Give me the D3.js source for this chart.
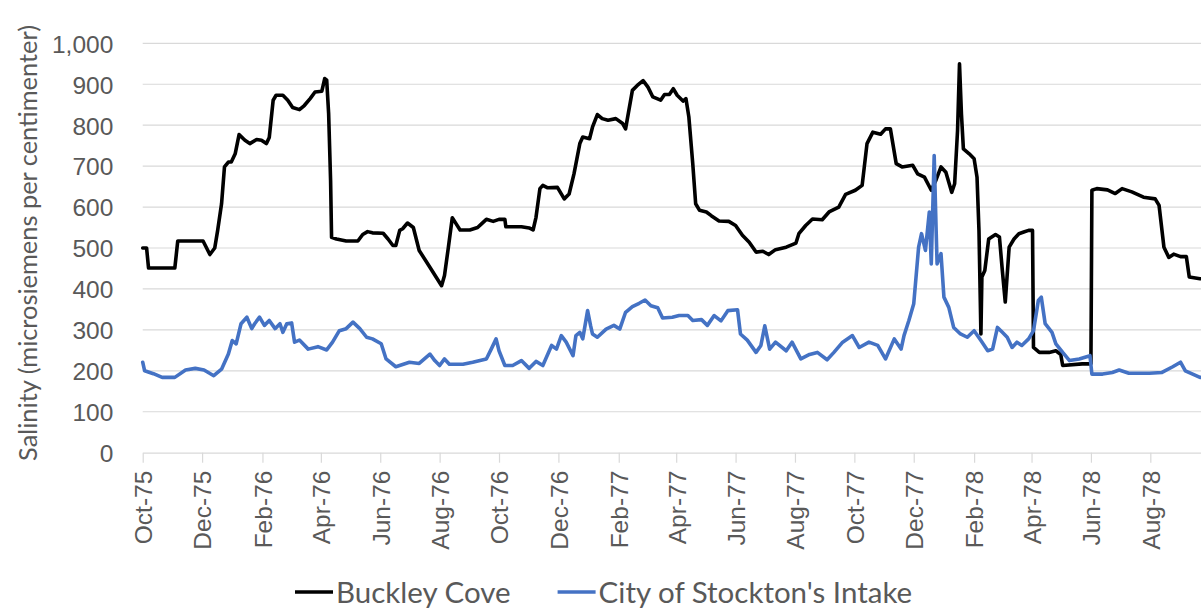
<!DOCTYPE html>
<html>
<head>
<meta charset="utf-8">
<script src="https://cdn.jsdelivr.net/npm/d3@7"></script>
<style>
  body { margin: 0; background: #fff; }
  svg { display: block; font-family: Lato, "Open Sans", sans-serif; }
  .grid line { stroke: #d9d9d9; stroke-width: 1.2; }
  .tick text { fill: #595959; }
</style>
</head>
<body>
<svg id="chart"></svg>
<script>
// daily salinity (date, microsiemens/cm)
var buckleyCove = [
  ["1975-10-01",500],["1975-10-05",500],["1975-10-07",451],["1975-11-03",451],["1975-11-06",517],["1975-12-02",517],
  ["1975-12-09",484],["1975-12-14",500],["1975-12-17",543],["1975-12-21",608],["1975-12-24",698],["1975-12-28",710],
  ["1975-12-31",710],["1976-01-04",730],["1976-01-08",777],["1976-01-14",763],["1976-01-19",755],["1976-01-26",765],
  ["1976-01-31",763],["1976-02-05",755],["1976-02-08",770],["1976-02-12",861],["1976-02-15",873],["1976-02-22",873],
  ["1976-02-27",861],["1976-03-03",843],["1976-03-10",838],["1976-03-15",848],["1976-03-21",865],["1976-03-26",881],
  ["1976-04-02",883],["1976-04-05",914],["1976-04-07",910],["1976-04-09",828],["1976-04-11",665],["1976-04-12",526],
  ["1976-04-17",522],["1976-04-27",517],["1976-05-09",517],["1976-05-14",533],["1976-05-19",540],["1976-05-24",537],
  ["1976-06-04",536],["1976-06-09",522],["1976-06-14",506],["1976-06-17",506],["1976-06-21",543],["1976-06-24",547],
  ["1976-06-29",561],["1976-07-05",550],["1976-07-11",494],["1976-07-22",453],["1976-08-03",408],["1976-08-06",433],
  ["1976-08-10",502],["1976-08-14",574],["1976-08-18",559],["1976-08-22",544],["1976-09-01",544],["1976-09-09",550],
  ["1976-09-13",559],["1976-09-18",570],["1976-09-25",565],["1976-10-01",570],["1976-10-07",570],["1976-10-08",552],
  ["1976-10-24",552],["1976-11-01",549],["1976-11-05",544],["1976-11-08",575],["1976-11-12",645],["1976-11-15",653],
  ["1976-11-20",647],["1976-11-30",648],["1976-12-07",620],["1976-12-12",632],["1976-12-17",681],["1976-12-23",755],
  ["1976-12-26",771],["1977-01-02",767],["1977-01-05",795],["1977-01-10",826],["1977-01-15",816],["1977-01-21",812],
  ["1977-01-29",816],["1977-02-05",804],["1977-02-08",791],["1977-02-15",885],["1977-02-20",897],["1977-02-26",909],
  ["1977-03-03",893],["1977-03-08",869],["1977-03-16",861],["1977-03-20",875],["1977-03-25",875],["1977-03-29",889],
  ["1977-04-02",873],["1977-04-08",859],["1977-04-11",865],["1977-04-14",820],["1977-04-18",706],["1977-04-21",608],
  ["1977-04-25",592],["1977-05-02",588],["1977-05-07",579],["1977-05-15",566],["1977-05-25",565],["1977-06-01",555],
  ["1977-06-08",531],["1977-06-15",514],["1977-06-22",490],["1977-06-29",492],["1977-07-05",484],["1977-07-12",496],
  ["1977-07-23",502],["1977-08-02",512],["1977-08-05",535],["1977-08-12",555],["1977-08-19",571],["1977-08-29",569],
  ["1977-09-05",588],["1977-09-15",600],["1977-09-22",631],["1977-10-02",641],["1977-10-09",653],["1977-10-14",755],
  ["1977-10-20",783],["1977-10-28",778],["1977-11-02",791],["1977-11-07",791],["1977-11-13",706],["1977-11-19",698],
  ["1977-11-30",702],["1977-12-05",681],["1977-12-12",673],["1977-12-19",641],["1977-12-24",667],["1977-12-29",698],
  ["1978-01-03",685],["1978-01-09",636],["1978-01-12",657],["1978-01-15",787],["1978-01-17",950],["1978-01-19",827],
  ["1978-01-21",742],["1978-01-27",730],["1978-02-01",718],["1978-02-04",673],["1978-02-06",543],["1978-02-08",290],
  ["1978-02-09",429],["1978-02-12",445],["1978-02-16",522],["1978-02-23",533],["1978-02-27",527],["1978-03-02",445],
  ["1978-03-05",368],["1978-03-09",502],["1978-03-14",522],["1978-03-19",535],["1978-03-24",539],["1978-03-29",543],
  ["1978-04-02",543],["1978-04-03",257],["1978-04-09",245],["1978-04-19",245],["1978-04-26",249],["1978-05-01",240],
  ["1978-05-03",213],["1978-05-23",217],["1978-06-01",217],["1978-06-02",641],["1978-06-07",645],["1978-06-18",642],
  ["1978-06-26",633],["1978-07-03",645],["1978-07-13",637],["1978-07-25",624],["1978-08-06",620],["1978-08-10",604],
  ["1978-08-15",502],["1978-08-20",477],["1978-08-25",485],["1978-09-01",479],["1978-09-07",479],["1978-09-10",429],
  ["1978-09-21",425],["1978-09-30",425]
];

var stocktonIntake = [
  ["1975-10-01",221],["1975-10-03",200],["1975-10-12",193],["1975-10-21",184],["1975-11-03",184],["1975-11-14",202],
  ["1975-11-24",206],["1975-12-03",202],["1975-12-13",188],["1975-12-21",204],["1975-12-28",241],["1976-01-01",274],
  ["1976-01-05",266],["1976-01-10",315],["1976-01-16",331],["1976-01-21",303],["1976-01-24",315],["1976-01-29",331],
  ["1976-02-03",311],["1976-02-08",323],["1976-02-14",303],["1976-02-19",315],["1976-02-22",294],["1976-02-26",315],
  ["1976-03-02",317],["1976-03-05",270],["1976-03-10",275],["1976-03-19",253],["1976-03-29",259],["1976-04-07",251],
  ["1976-04-13",270],["1976-04-20",298],["1976-04-27",303],["1976-05-04",319],["1976-05-11",303],["1976-05-18",282],
  ["1976-05-24",278],["1976-06-02",266],["1976-06-07",229],["1976-06-17",210],["1976-07-01",221],["1976-07-11",218],
  ["1976-07-22",241],["1976-07-27",225],["1976-08-01",213],["1976-08-06",229],["1976-08-11",216],["1976-08-25",216],
  ["1976-09-04",221],["1976-09-18",229],["1976-09-23",253],["1976-09-28",278],["1976-10-01",249],["1976-10-07",213],
  ["1976-10-15",213],["1976-10-24",225],["1976-11-01",206],["1976-11-08",223],["1976-11-15",213],["1976-11-24",262],
  ["1976-11-29",253],["1976-12-04",286],["1976-12-09",270],["1976-12-16",237],["1976-12-19",286],["1976-12-23",294],
  ["1976-12-26",278],["1976-12-31",347],["1977-01-03",311],["1977-01-05",290],["1977-01-10",282],["1977-01-19",302],
  ["1977-01-27",311],["1977-02-02",302],["1977-02-08",343],["1977-02-15",357],["1977-02-22",365],["1977-02-28",373],
  ["1977-03-06",359],["1977-03-13",354],["1977-03-18",329],["1977-03-28",331],["1977-04-04",335],["1977-04-13",335],
  ["1977-04-18",323],["1977-04-27",325],["1977-05-03",311],["1977-05-10",335],["1977-05-17",322],["1977-05-24",347],
  ["1977-06-03",349],["1977-06-06",290],["1977-06-13",275],["1977-06-22",245],["1977-06-27",262],["1977-07-01",310],
  ["1977-07-06",253],["1977-07-12",270],["1977-07-23",249],["1977-07-29",270],["1977-08-07",229],["1977-08-16",240],
  ["1977-08-24",245],["1977-09-03",227],["1977-09-10",245],["1977-09-19",270],["1977-09-29",286],["1977-10-06",257],
  ["1977-10-16",270],["1977-10-25",262],["1977-11-02",229],["1977-11-11",278],["1977-11-18",253],["1977-11-21",286],
  ["1977-11-26",323],["1977-12-01",364],["1977-12-06",502],["1977-12-09",535],["1977-12-13",494],["1977-12-17",588],
  ["1977-12-19",461],["1977-12-22",726],["1977-12-24",543],["1977-12-25",461],["1977-12-29",486],["1978-01-01",380],
  ["1978-01-06",355],["1978-01-11",306],["1978-01-18",290],["1978-01-25",282],["1978-02-01",298],["1978-02-08",274],
  ["1978-02-15",249],["1978-02-20",253],["1978-02-25",306],["1978-03-02",294],["1978-03-07",282],["1978-03-12",257],
  ["1978-03-17",270],["1978-03-22",262],["1978-03-29",278],["1978-04-03",298],["1978-04-08",372],["1978-04-11",380],
  ["1978-04-15",315],["1978-04-22",294],["1978-04-26",266],["1978-05-03",245],["1978-05-10",225],["1978-05-20",229],
  ["1978-05-31",237],["1978-06-02",192],["1978-06-13",192],["1978-06-23",196],["1978-06-30",202],["1978-07-10",194],
  ["1978-07-31",194],["1978-08-13",196],["1978-08-24",210],["1978-09-01",221],["1978-09-06",200],["1978-09-21",184],
  ["1978-09-30",184]
];

var seriesNames = ["Buckley Cove", "City of Stockton's Intake"];
var seriesColors = ["#000000", "#4472c4"];

var xTickLabels = ["Oct-75","Dec-75","Feb-76","Apr-76","Jun-76","Aug-76","Oct-76","Dec-76","Feb-77",
  "Apr-77","Jun-77","Aug-77","Oct-77","Dec-77","Feb-78","Apr-78","Jun-78","Aug-78"];
var yTicks = [0,100,200,300,400,500,600,700,800,900,1000];
var yTitle = "Salinity (microsiemens per centimenter)";

var width = 1201, height = 609;
var parseDay = d3.timeParse("%Y-%m-%d");
var parseTick = d3.timeParse("%b-%y");

var svg = d3.select("svg#chart")
  .attr("width", width)
  .attr("height", height);

// plot area runs past the right edge, like the cropped original
var x = d3.scaleTime()
  .domain([parseDay("1975-10-01"), parseDay("1978-10-01")])
  .range([142.7, 1209.7]);

var y = d3.scaleLinear()
  .domain([0, 1000])
  .range([452.7, 43.3]);

// horizontal gridlines
svg.append("g").attr("class", "grid")
  .selectAll("line")
  .data(yTicks.slice(1))
  .enter().append("line")
  .attr("x1", x.range()[0]).attr("x2", x.range()[1])
  .attr("y1", d => y(d)).attr("y2", d => y(d));

// y axis labels
var yAxis = svg.append("g")
  .attr("transform", translate(x.range()[0], 0))
  .call(d3.axisLeft(y).tickValues(yTicks).tickFormat(d3.format(",")).tickSize(0).tickPadding(29.4));
yAxis.select(".domain").remove();
yAxis.selectAll("text").style("font-size", "24.5px").attr("dy", "0.36em");

// x axis
var xAxis = svg.append("g")
  .attr("transform", translate(0, y(0)))
  .call(d3.axisBottom(x)
    .tickValues(xTickLabels.map(parseTick))
    .tickFormat(d3.timeFormat("%b-%y"))
    .tickSize(10)
    .tickSizeOuter(0));
xAxis.select(".domain").attr("stroke", "#d9d9d9").attr("stroke-width", 1.2);
xAxis.selectAll(".tick line").attr("stroke", "#d9d9d9").attr("stroke-width", 1.2);
xAxis.selectAll("text")
  .style("font-size", "24.5px")
  .style("text-anchor", "end")
  .attr("transform", "rotate(-90)")
  .attr("x", -18)
  .attr("y", 0)
  .attr("dy", "0.36em");

// y axis title
svg.append("text")
  .attr("transform", translate(37, 243) + " rotate(-90)")
  .attr("text-anchor", "middle")
  .style("font-size", "25.4px")
  .style("fill", "#595959")
  .text(yTitle);

// series lines
var line = d3.line()
  .x(d => x(parseDay(d[0])))
  .y(d => y(d[1]));

[buckleyCove, stocktonIntake].forEach(function(series, i) {
  svg.append("path")
    .datum(series)
    .attr("d", line)
    .attr("fill", "none")
    .attr("stroke", seriesColors[i])
    .attr("stroke-width", 3.6)
    .attr("stroke-linejoin", "round")
    .attr("stroke-linecap", "round");
});

// legend
var legend = svg.append("g").attr("transform", translate(295, 592));
var lx = 0;
seriesNames.forEach(function(name, i) {
  var item = legend.append("g").attr("transform", translate(lx, 0));
  item.append("line")
    .attr("x1", 0).attr("x2", 38)
    .attr("stroke", seriesColors[i])
    .attr("stroke-width", 3.6);
  var t = item.append("text")
    .attr("x", 41)
    .attr("dy", "0.36em")
    .style("font-size", "29.5px")
    .style("fill", "#595959")
    .text(name);
  lx += 41 + t.node().getComputedTextLength() + 47;
});

function translate(a, b) {
  return "translate(" + a + "," + b + ")";
}
</script>
</body>
</html>
